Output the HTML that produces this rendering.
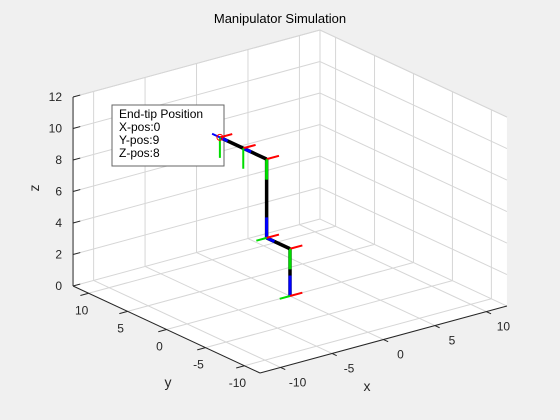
<!DOCTYPE html>
<html><head><meta charset="utf-8"><style>
body{margin:0;background:#f0f0f0;}
svg{display:block;font-family:"Liberation Sans",sans-serif;}
</style></head><body>
<svg id="c" width="560" height="420"></svg>
<script>
const xTicks=[-10,-5,0,5,10];
const yTicks=[-10,-5,0,5,10];
const zTicks=[0,2,4,6,8,10,12];
const jointX=[0,0,0,0,0,0];
const jointY=[0,0,3,3,6,9];
const jointZ=[0,3,3,8,8,8];
const tipLines=["End-tip Position","X-pos:0","Y-pos:9","Z-pos:8"];
const NS="http://www.w3.org/2000/svg";
const svg=document.getElementById('c');
function P(x,y,z){return [260+(x+12)*10.29-(y+12)*7.79, 373-(x+12)*2.79-(y+12)*3.625-z*15.75];}
function el(t,a,p){const e=document.createElementNS(NS,t);for(const k in a)e.setAttribute(k,a[k]);(p||svg).appendChild(e);return e;}
function line(a,b,st,w,name){const p=P(...a),q=P(...b);const e=el('line',{x1:p[0],y1:p[1],x2:q[0],y2:q[1],stroke:st,'stroke-width':w});

return e;}
function text(x,y,s,anchor,size,name){const e=el('text',{x:x,y:y,'text-anchor':anchor,'font-size':size,fill:'#262626'});e.textContent=s;

return e;}
const pts=[P(-12,-12,0),P(12,-12,0),P(12,-12,12),P(12,12,12),P(-12,12,12),P(-12,12,0)];
const bg=el('polygon',{points:pts.map(p=>p.join(',')).join(' '),fill:'#fff'});


const G='#d6d6d6';
xTicks.forEach(t=>{line([t,-12,0],[t,12,0],G,1,'grid-floor-x');line([t,12,0],[t,12,12],G,1,'grid-wall-x');});
yTicks.forEach(t=>{line([-12,t,0],[12,t,0],G,1,'grid-floor-y');line([12,t,0],[12,t,12],G,1,'grid-wall-y');});
zTicks.forEach(t=>{line([-12,12,t],[12,12,t],G,1,'grid-wall-z');line([12,12,t],[12,-12,t],G,1,'grid-wall-z');});
line([-12,12,12],[12,12,12],G,1,'box-edge');line([12,12,12],[12,-12,12],G,1,'box-edge');
line([12,12,0],[12,12,12],G,1,'box-edge');
const A='#262626';
line([-12,-12,0],[12,-12,0],A,1,'x-axis');
line([-12,-12,0],[-12,12,0],A,1,'y-axis');
line([-12,12,0],[-12,12,12],A,1,'z-axis');
xTicks.forEach(t=>{line([t,-12,0],[t,-12.6,0],A,1,'x-tick');const p=P(t,-12,0);text(p[0]+17,p[1]+19,String(t),'middle',12,'x-tick-label');});
yTicks.forEach(t=>{line([-12,t,0],[-12.8,t,0],A,1,'y-tick');const p=P(-12,t,0);text(p[0]-7,p[1]+21,String(t),'middle',12,'y-tick-label');});
zTicks.forEach(t=>{line([-12,12,t],[-11.3,12,t],A,1,'z-tick');const p=P(-12,12,t);text(p[0]-11,p[1]+4,String(t),'end',12,'z-tick-label');});
text(367,391,'x','middle',14,'x-axis-title');
text(168,387,'y','middle',14,'y-axis-title');
const zt=text(39,188,'z','middle',14,'z-axis-title');zt.setAttribute('transform','rotate(-90 39 188)');
const tt=text(280,23,'Manipulator Simulation','middle',13,'chart-title');tt.setAttribute('fill','#000');
// annotation (drawn below the manipulator)
const g=el('g',{});


el('rect',{x:112,y:105,width:112,height:61,fill:'#fff',stroke:'#666','stroke-width':1},g);
tipLines.forEach((s,k)=>{const t=el('text',{x:119,y:118+k*13,'font-size':12,fill:'#000'},g);t.textContent=s;

});
for(let i=0;i<jointX.length-1;i++){
  const a=[jointX[i],jointY[i],jointZ[i]],b=[jointX[i+1],jointY[i+1],jointZ[i+1]];
  line(a,b,'#000',3.5,'link-'+i);
  const d=[b[0]-a[0],b[1]-a[1],b[2]-a[2]];const L=Math.hypot(...d);const u=d.map(v=>v/L);
  if(jointZ[i]!==jointZ[i+1]){
    line(a,[a[0]+u[0]*1.3,a[1]+u[1]*1.3,a[2]+u[2]*1.3],'#0000ff',3,'link-z-mark');
    line(b,[b[0]-u[0]*1.3,b[1]-u[1]*1.3,b[2]-u[2]*1.3],'#00dd00',3,'link-y-mark');
  } else {
    line(b,[b[0]-u[0]*1,b[1]-u[1]*1,b[2]-u[2]*1],'#0000ff',3,'link-z-mark');
  }
}
for(let i=0;i<jointX.length;i++){
  const j=[jointX[i],jointY[i],jointZ[i]];
  line(j,[j[0]+1.2,j[1],j[2]],'#ff0000',2,'frame-x-axis');
  const vertNext=(i<jointX.length-1 && jointZ[i]!==jointZ[i+1]);
  if(vertNext) line(j,[j[0]-1,j[1],j[2]],'#00dd00',2,'frame-y-axis');
  else line(j,[j[0],j[1],j[2]-1.3],'#00dd00',2,'frame-y-axis');
}
const tp=P(jointX[5],jointY[5],jointZ[5]);
line([jointX[5],jointY[5],jointZ[5]],[jointX[5],jointY[5]+1,jointZ[5]],'#0000ff',2,'tip-z-axis');
const c=el('circle',{cx:tp[0],cy:tp[1],r:3,fill:'none',stroke:'#ff0000','stroke-width':1});


</script>
</body></html>
